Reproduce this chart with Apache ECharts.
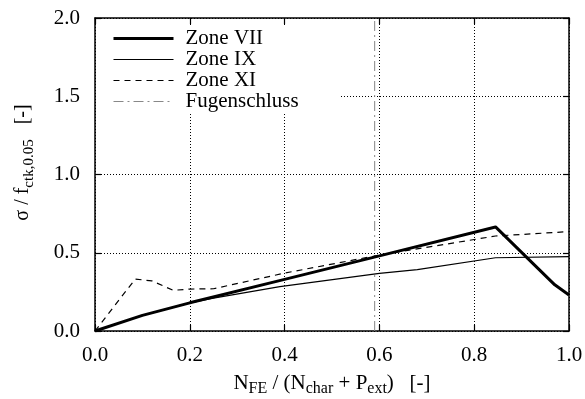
<!DOCTYPE html>
<html>
<head>
<meta charset="utf-8">
<script src="https://cdn.jsdelivr.net/npm/echarts@6/dist/echarts.min.js"></script>
<style>
  html, body { margin: 0; padding: 0; background: #fff; }
  #chart { width: 585px; height: 399px; }
</style>
</head>
<body>
<div id="chart"></div>
<script>
// Stress ratio sigma / f_ctk,0.05 against normalised force N_FE / (N_char + P_ext)
const xZoneVII = [0, 0.1, 0.2, 0.4, 0.6, 0.845, 0.97, 1.0];
const yZoneVII = [0, 0.1, 0.18, 0.33, 0.48, 0.665, 0.295, 0.23];

const xZoneIX = [0, 0.1, 0.2, 0.25, 0.39, 0.6, 0.68, 0.845, 1.0];
const yZoneIX = [0, 0.1, 0.18, 0.21, 0.283, 0.368, 0.392, 0.468, 0.475];

const xZoneXI = [0, 0.085, 0.12, 0.165, 0.2, 0.25, 0.4, 0.6, 0.845, 1.0];
const yZoneXI = [0, 0.332, 0.32, 0.26, 0.268, 0.27, 0.37, 0.485, 0.607, 0.635];

// joint closure position (vertical marker)
const xFugenschluss = [0.59, 0.59];
const yFugenschluss = [0, 2.0];

const seriesNames = ['Zone VII', 'Zone IX', 'Zone XI', 'Fugenschluss'];
const xTicks = { min: 0, max: 1.0, interval: 0.2 };
const yTicks = { min: 0, max: 2.0, interval: 0.5 };

const pairs = (xs, ys) => xs.map((x, i) => [x, ys[i]]);

const FONT = "'Liberation Serif', 'DejaVu Serif', serif";

const frameLine = { show: true, onZero: false, lineStyle: { color: '#000', width: 1.5 } };
const innerTick = { show: true, inside: true, length: 6, lineStyle: { color: '#000', width: 1.2 } };
const dotted = { show: true, lineStyle: { color: '#000', width: 1, type: [1, 2] } };

const xTitleRich = {
  m: { fontFamily: FONT, fontSize: 21, color: '#000', lineHeight: 28, verticalAlign: 'middle' },
  s: { fontFamily: FONT, fontSize: 16, color: '#000', lineHeight: 16, verticalAlign: 'bottom' }
};
const yTitleRich = {
  m: { fontFamily: FONT, fontSize: 20, color: '#000', lineHeight: 28, verticalAlign: 'middle' },
  s: { fontFamily: FONT, fontSize: 15, color: '#000', lineHeight: 15, verticalAlign: 'bottom' }
};

const chart = echarts.init(document.getElementById('chart'), null, { renderer: 'canvas' });

chart.setOption({
  animation: false,
  backgroundColor: '#fff',
  grid: { left: 95, right: 16, top: 18, bottom: 68, outerBoundsMode: 'none', containLabel: false },
  legend: {
    data: seriesNames,
    orient: 'vertical',
    left: 96,
    top: 25,
    padding: [3, 42, 0, 16],
    itemGap: 0,
    itemWidth: 60,
    itemHeight: 14,
    backgroundColor: '#fff',
    itemStyle: { opacity: 0 },
    lineStyle: { width: 'inherit' },
    textStyle: { fontFamily: FONT, fontSize: 21, lineHeight: 21, color: '#000', padding: [0, 0, 0, 7] }
  },
  xAxis: [
    {
      type: 'value', position: 'bottom',
      min: xTicks.min, max: xTicks.max, interval: xTicks.interval,
      axisLine: frameLine, axisTick: innerTick, splitLine: dotted,
      axisLabel: { margin: 14, fontFamily: FONT, fontSize: 21, color: '#000', formatter: v => v.toFixed(1) },
      name: '{m|N}{s|FE}{m| / (N}{s|char}{m| + P}{s|ext}{m|)   [-]}',
      nameLocation: 'middle',
      nameGap: 38,
      nameTextStyle: { rich: xTitleRich }
    },
    {
      type: 'value', position: 'top',
      min: xTicks.min, max: xTicks.max, interval: xTicks.interval,
      axisLine: frameLine, axisTick: innerTick,
      splitLine: { show: false }, axisLabel: { show: false }
    }
  ],
  yAxis: [
    {
      type: 'value', position: 'left',
      min: yTicks.min, max: yTicks.max, interval: yTicks.interval,
      axisLine: frameLine, axisTick: innerTick, splitLine: dotted,
      axisLabel: { margin: 15, fontFamily: FONT, fontSize: 21, color: '#000', formatter: v => v.toFixed(1) },
      name: '{m|σ / f}{s|ctk,0.05}{m|   [-]}',
      nameLocation: 'middle',
      nameRotate: 90,
      nameGap: 58,
      nameTextStyle: { padding: [0, 0, 0, 24], rich: yTitleRich }
    },
    {
      type: 'value', position: 'right',
      min: yTicks.min, max: yTicks.max, interval: yTicks.interval,
      axisLine: frameLine, axisTick: innerTick,
      splitLine: { show: false }, axisLabel: { show: false }
    }
  ],
  series: [
    {
      name: seriesNames[0], type: 'line', symbol: 'none', z: 5,
      data: pairs(xZoneVII, yZoneVII),
      itemStyle: { color: '#000' },
      lineStyle: { color: '#000', width: 3 }
    },
    {
      name: seriesNames[1], type: 'line', symbol: 'none', z: 4,
      data: pairs(xZoneIX, yZoneIX),
      itemStyle: { color: '#000' },
      lineStyle: { color: '#000', width: 1.2 }
    },
    {
      name: seriesNames[2], type: 'line', symbol: 'none', z: 4,
      data: pairs(xZoneXI, yZoneXI),
      itemStyle: { color: '#000' },
      lineStyle: { color: '#000', width: 1.2, type: [6, 5] }
    },
    {
      name: seriesNames[3], type: 'line', symbol: 'none', z: 3,
      data: pairs(xFugenschluss, yFugenschluss),
      itemStyle: { color: '#888' },
      lineStyle: { color: '#888', width: 1, type: [10, 4, 2, 4] }
    }
  ]
});
</script>
</body>
</html>
